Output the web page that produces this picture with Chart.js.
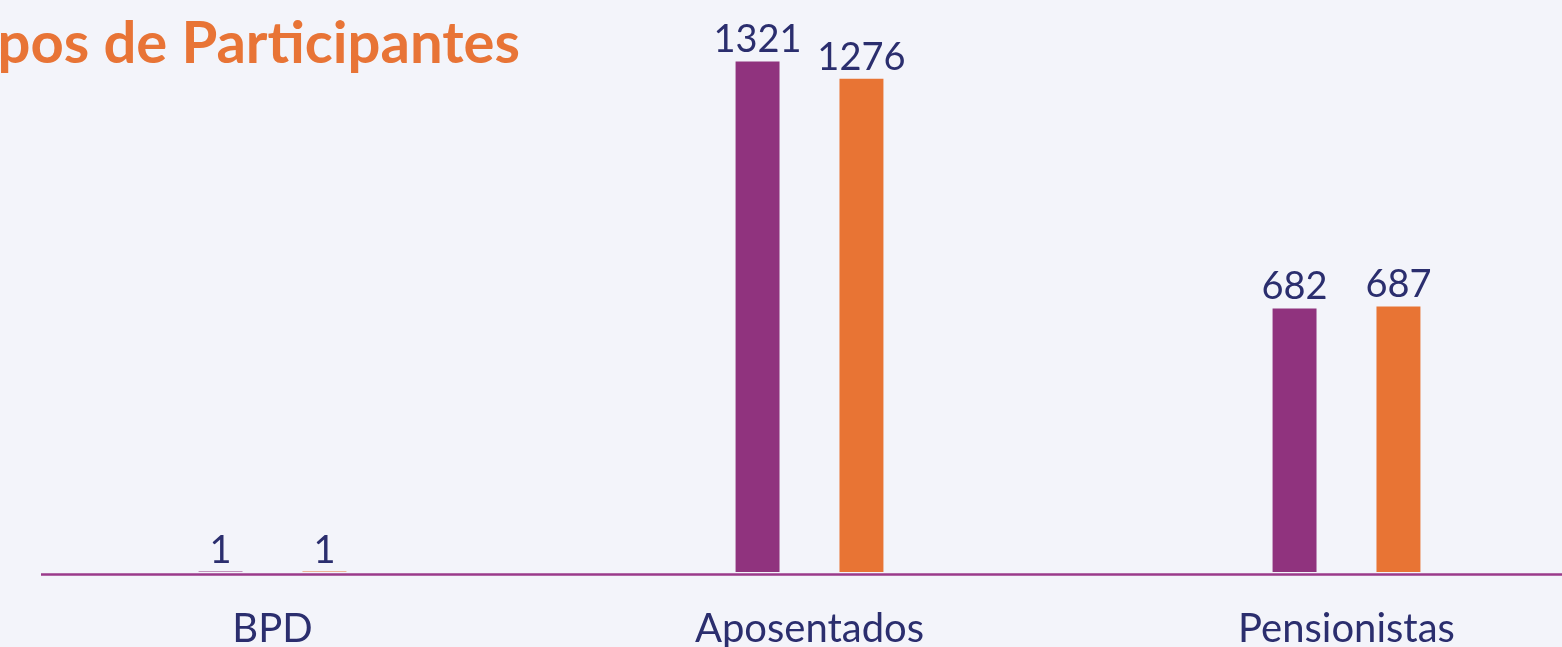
<!DOCTYPE html>
<html>
<head>
<meta charset="utf-8">
<script src="https://cdn.jsdelivr.net/npm/chart.js@4.4.1/dist/chart.umd.min.js"></script>
<style>
  html, body { margin: 0; padding: 0; background: #f3f4fa; overflow: hidden; }
  #wrap { position: relative; width: 1562px; height: 647px; overflow: hidden; }
  #box { position: absolute; left: 0; top: 0; width: 1620px; height: 647px; }
  #title {
    position: absolute; right: 1042px; top: 6px; white-space: nowrap;
    font-family: Lato, sans-serif; font-weight: 700; font-size: 58px;
    color: #e87436;
  }
</style>
</head>
<body>
<div id="wrap">
  <div id="box"><canvas id="chart"></canvas></div>
  <div id="title">Grupos de Participantes</div>
</div>
<script>
const categories = ["BPD", "Aposentados", "Pensionistas"]
const seriesA = [1, 1321, 682]
const seriesB = [1, 1276, 687]

const textColor = "#2b2e6e"

// value labels above each bar
const valueLabels = {
  id: "valueLabels",
  afterDatasetsDraw(chart) {
    const ctx = chart.ctx
    ctx.save()
    ctx.font = "38px Lato"
    ctx.fillStyle = textColor
    ctx.textAlign = "center"
    ctx.textBaseline = "alphabetic"
    chart.data.datasets.forEach((ds, i) => {
      chart.getDatasetMeta(i).data.forEach((bar, j) => {
        ctx.fillText(ds.data[j], bar.x, bar.y - 9)
      })
    })
    ctx.restore()
  }
}

// baseline under the bars
const baseLine = {
  id: "baseLine",
  afterDatasetsDraw(chart) {
    const ctx = chart.ctx
    const y = chart.scales.y.getPixelForValue(0) + 2.5
    ctx.save()
    ctx.strokeStyle = "#9a3a8a"
    ctx.lineWidth = 2.5
    ctx.beginPath()
    ctx.moveTo(41, y)
    ctx.lineTo(chart.width, y)
    ctx.stroke()
    ctx.restore()
  }
}

const chart = new Chart("chart", {
  type: "bar",
  data: {
    labels: categories,
    datasets: [
      { label: "Série 1", data: seriesA, backgroundColor: "#90337e" },
      { label: "Série 2", data: seriesB, backgroundColor: "#e87434" }
    ]
  },
  options: {
    responsive: true,
    maintainAspectRatio: false,
    animation: false,
    categoryPercentage: 0.387,
    barPercentage: 0.423,
    layout: { padding: { left: 4, right: 5, top: 0, bottom: 0 } },
    plugins: {
      legend: { display: false },
      tooltip: { enabled: false },
    },
    scales: {
      x: {
        grid: { display: false, drawTicks: false },
        border: { display: false },
        ticks: {
          color: textColor,
          font: { family: "Lato", size: 40 },
          padding: 33
        },
        afterFit(scale) { scale.height = 75 }
      },
      y: { display: false, min: 0, max: 1480 }
    }
  },
  plugins: [valueLabels, baseLine]
})
</script>
</body>
</html>
